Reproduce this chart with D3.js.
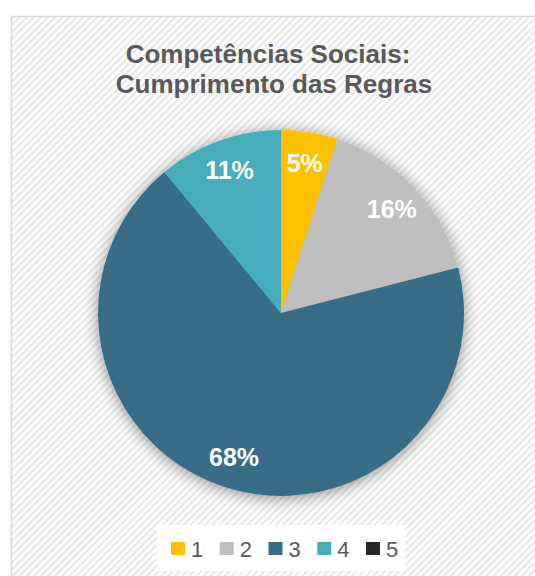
<!DOCTYPE html>
<html>
<head>
<meta charset="utf-8">
<script src="https://cdn.jsdelivr.net/npm/d3@7"></script>
<style>
  body { margin: 0; background: #fff; }
  svg { display: block; font-family: "Liberation Sans", Arial, sans-serif; }
</style>
</head>
<body>
<div id="chart"></div>
<script>
// chart data
var categories = ["1", "2", "3", "4", "5"]
var values = [5, 16, 68, 11, 0]
var colors = ["#FFC000", "#BFBFBF", "#376D88", "#47ADBA", "#262626"]
var titleLines = ["Competências Sociais:", "Cumprimento das Regras"]

var width = 535, height = 576
var cx = 281, cy = 313, radius = 183

var svg = d3.select("#chart").append("svg")
            .attr("width", width)
            .attr("height", height)

var defs = svg.append("defs")

// diagonal hatching of the chart area
var pat = defs.append("pattern")
              .attr("id", "hatch")
              .attr("patternUnits", "userSpaceOnUse")
              .attr("width", 5)
              .attr("height", 5)
              .attr("patternTransform", "rotate(45)")
pat.append("rect").attr("width", 5).attr("height", 5).attr("fill", "#ffffff")
pat.append("rect").attr("width", 2.2).attr("height", 5).attr("fill", "#eaeaea")

var shadow = defs.append("filter")
                 .attr("id", "pieShadow")
                 .attr("x", "-20%").attr("y", "-20%")
                 .attr("width", "140%").attr("height", "140%")
shadow.append("feGaussianBlur").attr("in", "SourceAlpha").attr("stdDeviation", 8).attr("result", "blur")
shadow.append("feOffset").attr("in", "blur").attr("dx", 0).attr("dy", 2).attr("result", "off")
shadow.append("feComponentTransfer").attr("in", "off").attr("result", "soft")
      .append("feFuncA").attr("type", "linear").attr("slope", 0.45)
var merge = shadow.append("feMerge")
merge.append("feMergeNode").attr("in", "soft")
merge.append("feMergeNode").attr("in", "SourceGraphic")

// frame
svg.append("rect")
   .attr("x", 11.5).attr("y", 16.5)
   .attr("width", 540).attr("height", 580)
   .attr("fill", "url(#hatch)")
   .attr("stroke", "#d9d9d9")
   .attr("stroke-width", 1.5)

// title
svg.append("g").selectAll("text")
   .data(titleLines)
   .join("text")
   .attr("x", (d, i) => i == 0 ? 268 : 274)
   .attr("y", (d, i) => 63 + i * 30)
   .attr("text-anchor", "middle")
   .attr("font-size", 26)
   .attr("font-weight", "bold")
   .attr("fill", "#595959")
   .text(d => d)

// pie
var pie = d3.pie().sort(null).value(d => d)
var arcs = pie(values)
var arc = d3.arc().innerRadius(0).outerRadius(radius)
var labelArc = d3.arc().innerRadius(152).outerRadius(152)

var pieG = svg.append("g").attr("transform", "translate(" + cx + "," + cy + ")")
pieG.append("g")
    .attr("filter", "url(#pieShadow)")
    .selectAll("path")
    .data(arcs)
    .join("path")
    .attr("d", arc)
    .attr("fill", (d, i) => colors[i])

pieG.append("g").selectAll("text")
    .data(arcs.filter(d => d.value > 0))
    .join("text")
    .attr("transform", d => "translate(" + labelArc.centroid(d) + ")")
    .attr("text-anchor", "middle")
    .attr("dy", "0.35em")
    .attr("font-size", 25)
    .attr("font-weight", "bold")
    .attr("fill", "#ffffff")
    .text(d => d.value + "%")

// legend
var legendX = d3.scalePoint().domain(categories).range([171, 366])
var legend = svg.append("g")
legend.append("rect")
      .attr("x", 157).attr("y", 525)
      .attr("width", 248).attr("height", 46)
      .attr("fill", "#ffffff")
var items = legend.selectAll("g.item")
                  .data(categories)
                  .join("g")
                  .attr("class", "item")
                  .attr("transform", d => "translate(" + legendX(d) + ",0)")
items.append("rect")
     .attr("x", 0).attr("y", 542)
     .attr("width", 14).attr("height", 13)
     .attr("fill", (d, i) => colors[i])
items.append("text")
     .attr("x", 20).attr("y", 557)
     .attr("font-size", 22)
     .attr("fill", "#595959")
     .text(d => d)
</script>
</body>
</html>
